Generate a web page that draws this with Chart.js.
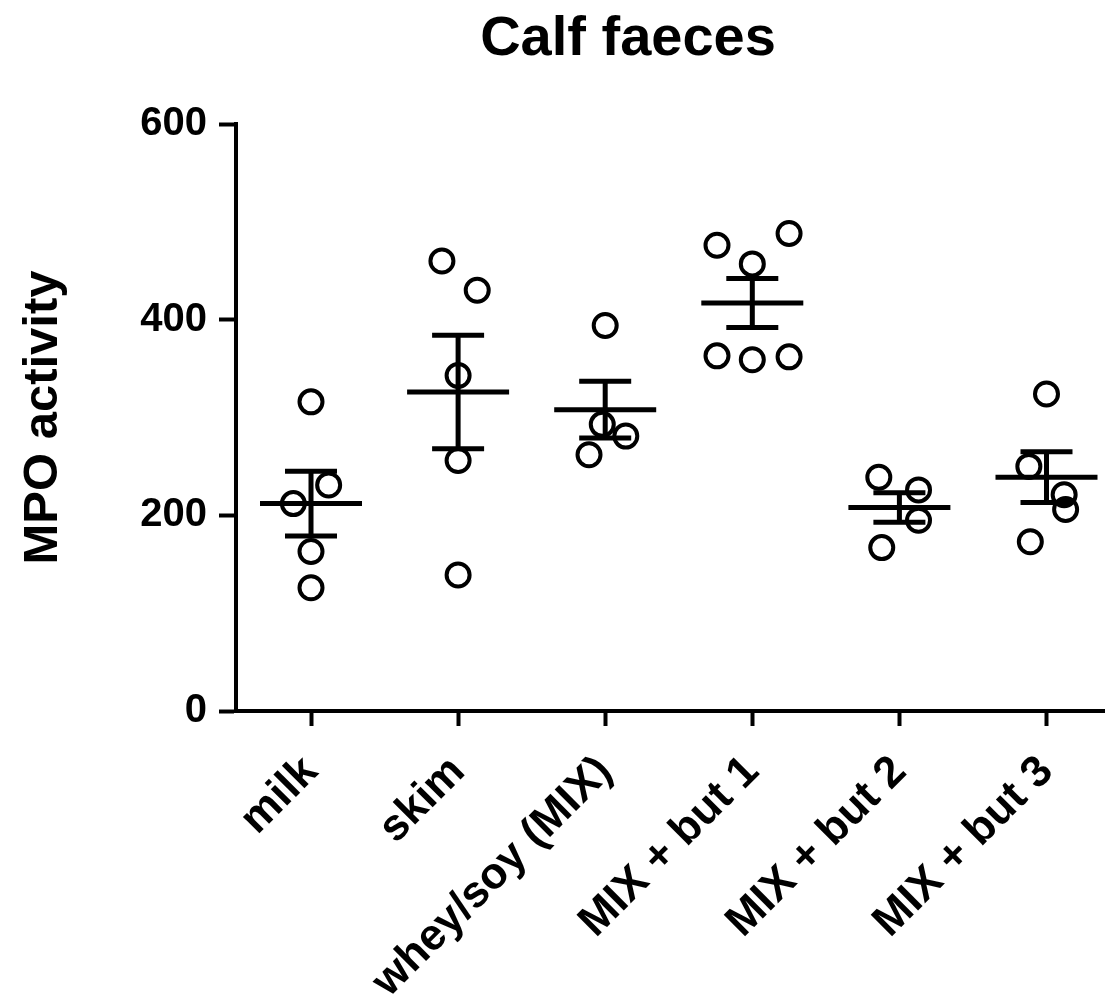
<!DOCTYPE html>
<html>
<head>
<meta charset="utf-8">
<script src="https://cdn.jsdelivr.net/npm/chart.js@4/dist/chart.umd.min.js"></script>
<style>
  html, body { margin: 0; padding: 0; background: #fff; }
  #wrap { width: 1105px; height: 996px; }
</style>
</head>
<body>
<div id="wrap"><canvas id="c" width="1105" height="996"></canvas></div>
<script>
// ---- data ----
const chartTitle = 'Calf faeces';
const yAxisTitle = 'MPO activity';
const categories = ['milk', 'skim', 'whey/soy (MIX)', 'MIX + but 1', 'MIX + but 2', 'MIX + but 3'];
const milkValues  = [316, 231, 212, 163, 126];
const skimValues  = [460, 430, 343, 256, 139];
const wheyValues  = [394, 293, 281, 262];
const but1Values  = [476, 488, 457, 363, 359, 362];
const but2Values  = [239, 226, 195, 167];
const but3Values  = [324, 250, 221, 206, 173];
// horizontal scatter (jitter) of each point, in category units
const milkJitter  = [0, 0.12, -0.12, 0, 0];
const skimJitter  = [-0.11, 0.13, 0, 0, 0];
const wheyJitter  = [0, -0.02, 0.14, -0.11];
const but1Jitter  = [-0.24, 0.25, 0, -0.24, 0, 0.25];
const but2Jitter  = [-0.14, 0.13, 0.13, -0.12];
const but3Jitter  = [0, -0.12, 0.12, 0.13, -0.11];
const groupMeans  = [212, 326, 308, 417, 208, 239];
const groupSEM    = [33, 58, 29, 25, 15, 26];
const yTicks      = [0, 200, 400, 600];

const FONT = "'Liberation Sans', Arial, Helvetica, sans-serif";
const groups = [
  [milkValues, milkJitter], [skimValues, skimJitter], [wheyValues, wheyJitter],
  [but1Values, but1Jitter], [but2Values, but2Jitter], [but3Values, but3Jitter]
];
const points = [];
groups.forEach((g, gi) => {
  g[0].forEach((v, k) => points.push({ x: gi + 1 + g[1][k], y: v }));
});

// mean line + SEM error bars, positioned through the chart scales
const meanSemPlugin = {
  id: 'meanSem',
  afterDatasetsDraw(chart) {
    const ctx = chart.ctx;
    const xs = chart.scales.x, ys = chart.scales.y;
    ctx.save();
    ctx.strokeStyle = '#000';
    ctx.lineWidth = 5;
    ctx.lineCap = 'butt';
    groupMeans.forEach((m, i) => {
      const cx = xs.getPixelForValue(i + 1);
      const ym = ys.getPixelForValue(m);
      const yu = ys.getPixelForValue(m + groupSEM[i]);
      const yl = ys.getPixelForValue(m - groupSEM[i]);
      ctx.beginPath();
      ctx.moveTo(cx - 51, ym); ctx.lineTo(cx + 51, ym);
      ctx.moveTo(cx, yu); ctx.lineTo(cx, yl);
      ctx.moveTo(cx - 26, yu); ctx.lineTo(cx + 26, yu);
      ctx.moveTo(cx - 26, yl); ctx.lineTo(cx + 26, yl);
      ctx.stroke();
    });
    ctx.restore();
  }
};

// chart title (real text), placed above the plot
const titlePlugin = {
  id: 'plotTitle',
  afterDraw(chart) {
    const ctx = chart.ctx;
    ctx.save();
    ctx.fillStyle = '#000';
    ctx.font = "bold 56px " + FONT;
    ctx.textAlign = 'center';
    ctx.textBaseline = 'alphabetic';
    ctx.fillText(chartTitle, 628, 55);
    ctx.restore();
  }
};

new Chart(document.getElementById('c'), {
  type: 'scatter',
  data: {
    datasets: [{
      data: points,
      pointStyle: 'circle',
      pointRadius: 11.5,
      pointHoverRadius: 11.5,
      pointBorderWidth: 4,
      pointBorderColor: '#000',
      pointBackgroundColor: 'rgba(0,0,0,0)'
    }]
  },
  options: {
    responsive: false,
    animation: false,
    devicePixelRatio: 1,
    layout: { autoPadding: false, padding: { top: 124, right: 0, bottom: 0, left: 0 } },
    plugins: {
      legend: { display: false },
      tooltip: { enabled: false },
      title: { display: false }
    },
    scales: {
      x: {
        type: 'linear',
        position: 'bottom',
        min: 0.4901,
        max: 6.3977,
        afterBuildTicks(scale) {
          scale.ticks = categories.map((c, i) => ({ value: i + 1 }));
        },
        afterFit(scale) {
          scale.height = 285;
          scale.paddingLeft = 0;
          scale.paddingRight = 0;
        },
        grid: { drawOnChartArea: false, drawTicks: true, tickLength: 15, tickWidth: 4, color: '#000' },
        border: { display: true, color: '#000', width: 4 },
        ticks: {
          autoSkip: false,
          maxRotation: 45,
          minRotation: 45,
          padding: 20,
          color: '#000',
          font: { family: FONT, size: 44, weight: 'bold' },
          callback(value) { return categories[Math.round(value) - 1]; }
        }
      },
      y: {
        min: 0,
        max: 600,
        afterBuildTicks(scale) {
          scale.ticks = yTicks.map(v => ({ value: v }));
        },
        afterFit(scale) {
          scale.width = 236;
          scale.paddingTop = 0;
          scale.paddingBottom = 0;
        },
        grid: { drawOnChartArea: false, drawTicks: true, tickLength: 17, tickWidth: 4, color: '#000' },
        border: { display: true, color: '#000', width: 4 },
        ticks: {
          padding: 12,
          color: '#000',
          font: { family: FONT, size: 40, weight: 'bold' }
        },
        title: {
          display: true,
          text: yAxisTitle,
          color: '#000',
          font: { family: FONT, size: 49, weight: 'bold', lineHeight: 1.2 },
          padding: { top: 14, bottom: 0 }
        }
      }
    }
  },
  plugins: [meanSemPlugin, titlePlugin]
});
</script>
</body>
</html>
